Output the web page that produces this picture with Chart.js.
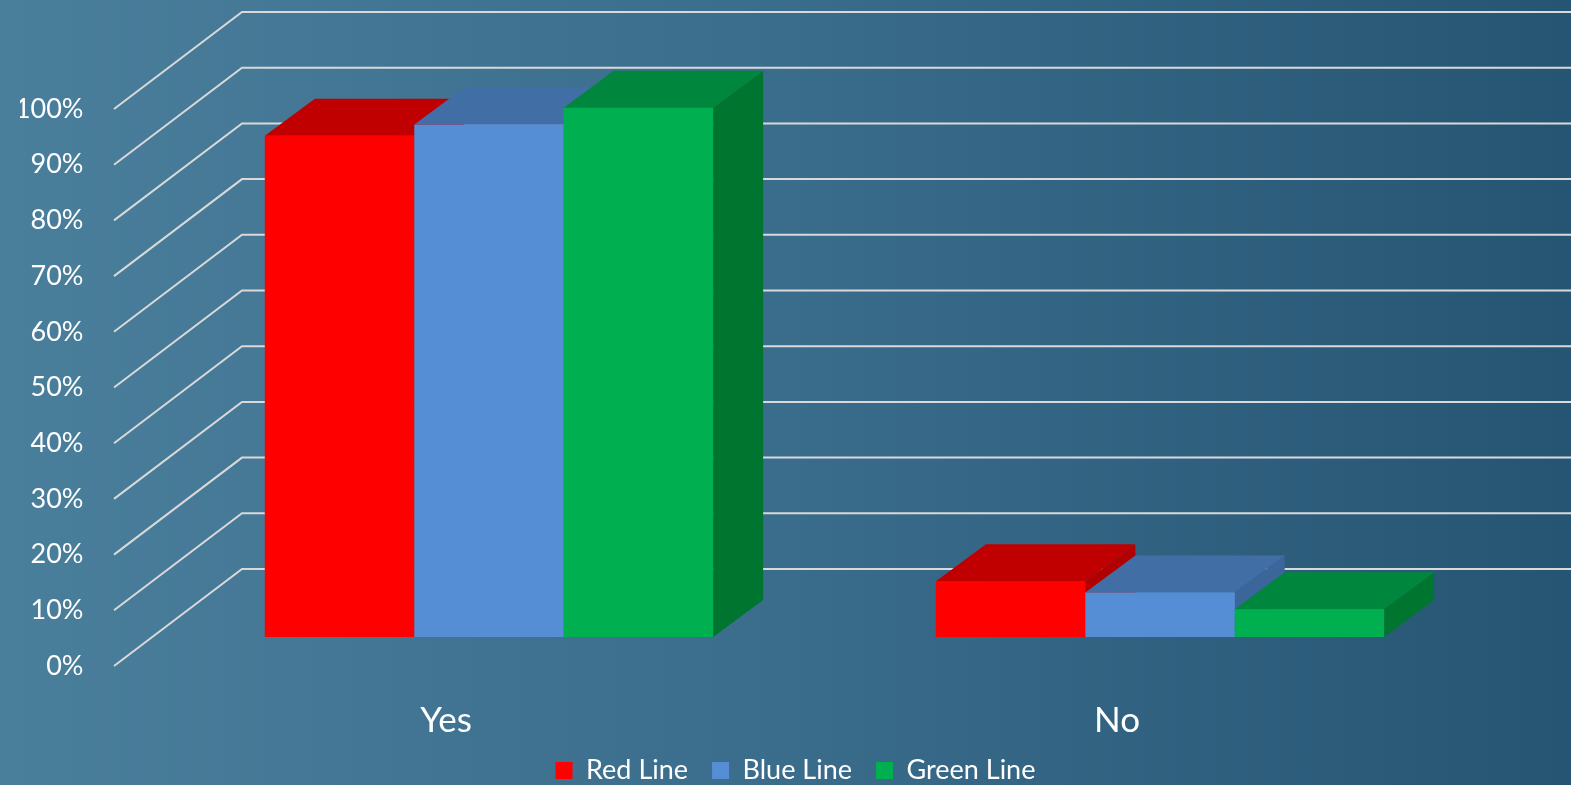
<!DOCTYPE html>
<html>
<head>
<meta charset="utf-8">
<script src="https://cdn.jsdelivr.net/npm/chart.js@4.4.1/dist/chart.umd.min.js"></script>
<style>
  html, body { margin: 0; padding: 0; }
  body {
    width: 1571px; height: 785px; overflow: hidden;
    background: linear-gradient(90deg, #4a7f9c 0%, #3a6c8b 50%, #265573 100%);
  }
  #chart { display: block; }
</style>
</head>
<body>
<canvas id="chart" width="1571" height="785"></canvas>
<script>
// survey answers per line, in percent
const categories = ['Yes', 'No'];
const seriesNames = ['Red Line', 'Blue Line', 'Green Line'];
const redValues = [90, 10];
const blueValues = [92, 8];
const greenValues = [95, 5];
const yTickValues = [0, 10, 20, 30, 40, 50, 60, 70, 80, 90, 100];

// front / top / side shades of each series
const frontColors = ['#ff0000', '#558ed5', '#00b050'];
const topColors = ['#c00000', '#426ea6', '#00873d'];
const sideColors = ['#b00000', '#3b6699', '#00752f'];

// oblique offsets, measured from the plane the bars' front faces sit in
const BAR_DX = 50, BAR_DY = -37;       // bar depth
const FLOOR_DX = -39.5, FLOOR_DY = 29; // front edge of the floor
const WALL_DX = 88.5, WALL_DY = -68;   // back wall

const FONT = 'Lato, "Open Sans", sans-serif';

// diagonal side-wall lines plus the back wall gridlines
const wallGrid = {
  id: 'wallGrid',
  beforeDatasetsDraw(chart) {
    const { ctx, chartArea } = chart;
    const y = chart.scales.y;
    ctx.save();
    ctx.strokeStyle = '#d9d9d9';
    ctx.lineWidth = 2;
    yTickValues.forEach(v => {
      const py = y.getPixelForValue(v);
      ctx.beginPath();
      ctx.moveTo(chartArea.left + FLOOR_DX, py + FLOOR_DY);
      ctx.lineTo(chartArea.left + WALL_DX, py + WALL_DY);
      ctx.lineTo(chart.width, py + WALL_DY);
      ctx.stroke();
    });
    ctx.restore();
  }
};

// extrude the bars: side, top, then front again so later bars cover earlier sides
const boxBars = {
  id: 'boxBars',
  afterDatasetsDraw(chart) {
    const { ctx } = chart;
    ctx.save();
    chart.data.datasets.forEach((ds, i) => {
      const meta = chart.getDatasetMeta(i);
      if (meta.hidden) return;
      meta.data.forEach(bar => {
        const { x, y, base, width } = bar.getProps(['x', 'y', 'base', 'width'], true);
        const l = x - width / 2, r = x + width / 2;

        ctx.fillStyle = sideColors[i];
        ctx.beginPath();
        ctx.moveTo(r, y);
        ctx.lineTo(r + BAR_DX, y + BAR_DY);
        ctx.lineTo(r + BAR_DX, base + BAR_DY);
        ctx.lineTo(r, base);
        ctx.closePath();
        ctx.fill();

        ctx.fillStyle = topColors[i];
        ctx.beginPath();
        ctx.moveTo(l, y);
        ctx.lineTo(r, y);
        ctx.lineTo(r + BAR_DX, y + BAR_DY);
        ctx.lineTo(l + BAR_DX, y + BAR_DY);
        ctx.closePath();
        ctx.fill();

        ctx.fillStyle = frontColors[i];
        ctx.fillRect(l, y, width, base - y);
      });
    });
    ctx.restore();
  }
};

const seriesValues = [redValues, blueValues, greenValues];

new Chart(document.getElementById('chart'), {
  type: 'bar',
  data: {
    labels: categories,
    datasets: seriesNames.map((name, i) => ({
      label: name,
      data: seriesValues[i],
      backgroundColor: frontColors[i],
      borderWidth: 0,
      barPercentage: 1,
      categoryPercentage: 0.668,
      yAxisID: 'y',
    })),
  },
  options: {
    responsive: false,
    animation: false,
    layout: { padding: { left: 20, right: 0, top: 80, bottom: -9 } },
    plugins: {
      tooltip: { enabled: false },
      legend: {
        position: 'bottom',
        labels: {
          color: '#ffffff',
          font: { family: FONT, size: 27 },
          boxWidth: 17,
          boxHeight: 17,
          padding: 24,
        },
      },
    },
    scales: {
      x: {
        grid: { display: false, drawTicks: false },
        border: { display: false },
        ticks: {
          color: '#ffffff',
          font: { family: FONT, size: 35 },
          labelOffset: -43,
          padding: 63,
        },
        afterFit(scale) { scale.height = 96; },
      },
      y: {
        min: 0,
        max: 100,
        grid: { display: false, drawTicks: false },
        border: { display: false },
        ticks: {
          stepSize: 10,
          color: '#ffffff',
          font: { family: FONT, size: 27 },
          padding: 70,
          labelOffset: 29,
          callback: v => v + '%',
        },
        afterFit(scale) {
          scale.width = 133.5;
          scale.paddingTop = 0;
          scale.paddingBottom = 0;
        },
      },
      // empty strip on the right so the plot ends where the back wall runs off
      yRight: {
        position: 'right',
        display: true,
        grid: { display: false, drawTicks: false },
        border: { display: false },
        ticks: { display: false },
        afterFit(scale) { scale.width = 75.5; },
      },
    },
  },
  plugins: [wallGrid, boxBars],
});
</script>
</body>
</html>
